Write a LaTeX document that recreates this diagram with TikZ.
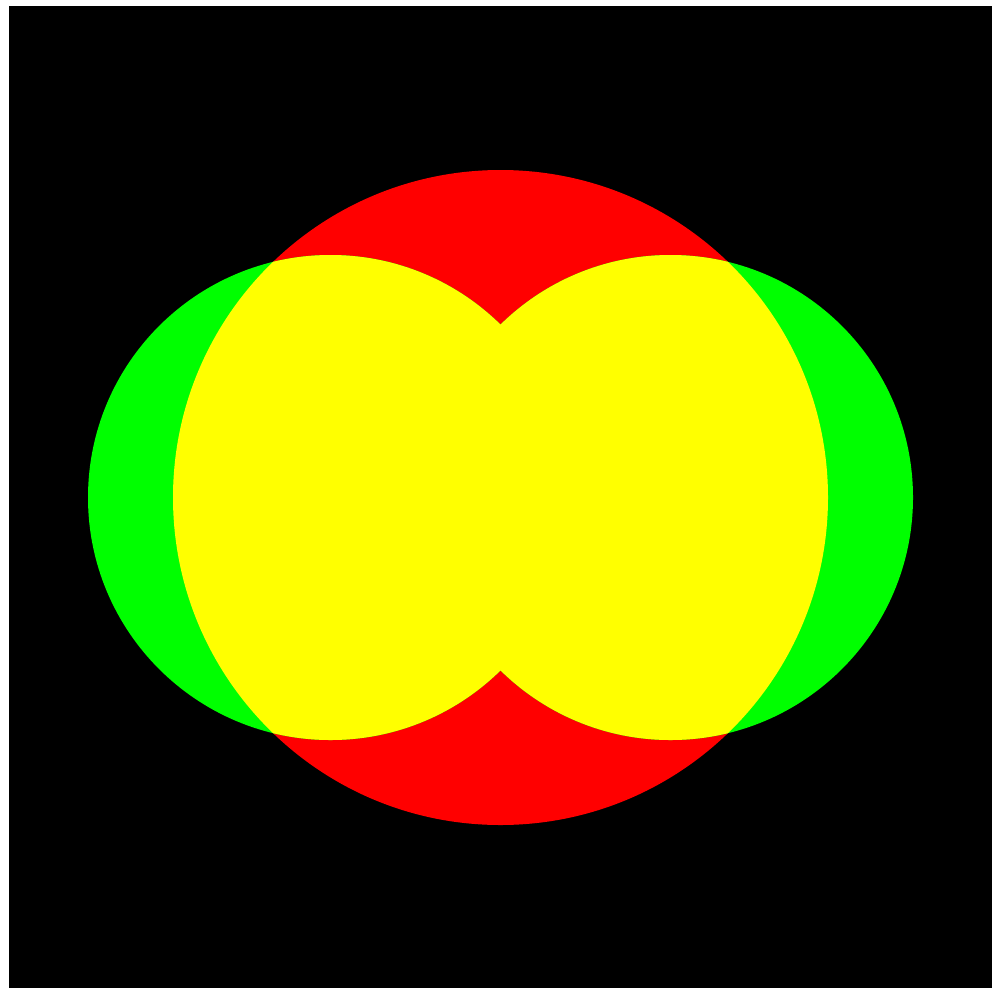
\documentclass[tikz,border=0pt]{standalone}
\usepackage{xcolor}
\usepackage{tikz}
\definecolor{PureRed}{RGB}{255,0,0}
\definecolor{PureGreen}{RGB}{0,255,0}
\definecolor{PureYellow}{RGB}{255,255,0}

\begin{document}
\begin{tikzpicture}[
    x=1pt, y=-1pt,
    % ── Region styles ──
    canvas/.style = {fill=black},
    disc/.style   = {fill=PureRed},
    lobe/.style   = {fill=PureGreen},
    both/.style   = {fill=PureYellow},
]

% =====================================================================
%  FRAME: white margin, black canvas
% =====================================================================
\fill[white] (0,0) rectangle (992,988);
\fill[canvas] (9,6) rectangle (992,988);

% ── centres
\coordinate (mid)   at (500.5,497.5);
\coordinate (lobeL) at (330.5,497.5);
\coordinate (lobeR) at (670.5,497.5);

% =====================================================================
%  RED DISC and GREEN LOBES
% =====================================================================
\fill[disc] (mid) circle[radius=327.5];
\fill[lobe] (lobeL) circle[radius=242.5] (lobeR) circle[radius=242.5];

% ── overlap of disc and lobes
\begin{scope}
    \clip (mid) circle[radius=327.5];
    \fill[both] (lobeL) circle[radius=242.5] (lobeR) circle[radius=242.5];
\end{scope}

\end{tikzpicture}
\end{document}
